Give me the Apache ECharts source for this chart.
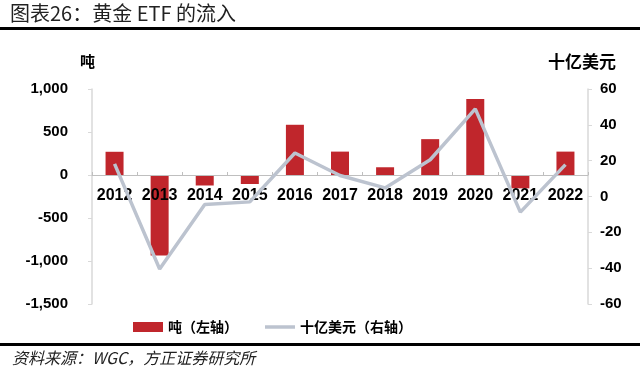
<!DOCTYPE html>
<html><head><meta charset="utf-8">
<script src="https://cdn.jsdelivr.net/npm/echarts@6/dist/echarts.min.js"></script>
<style>html,body{margin:0;padding:0;background:#fff}#c{width:640px;height:382px}</style>
</head><body><div id="c"></div>
<script>
const categories = ['2012','2013','2014','2015','2016','2017','2018','2019','2020','2021','2022'];
const tonnes = [270, -935, -122, -105, 584, 272, 90, 417, 884, -155, 272];
const usdBn = [18.2, -40.5, -4.4, -3.0, 24.3, 11.7, 4.8, 20.5, 48.9, -8.7, 17.8];
const leftTicks = {min: -1500, max: 1000, interval: 500};
const rightTicks = {min: -60, max: 60, interval: 20};
const seriesNames = ['吨（左轴）', '十亿美元（右轴）'];

const gridTop = 89, gridBottom = 78, H = 382;
const plotH = H - gridTop - gridBottom;
const zeroY = gridTop + plotH * (leftTicks.max - 0) / (leftTicks.max - leftTicks.min);
const xOffset = -((H - gridBottom) - zeroY);

const chart = echarts.init(document.getElementById('c'), null, {renderer: 'canvas'});
const cjk = '"Liberation Sans", Arial, "Noto Sans CJK SC", sans-serif';
chart.setOption({
  animation: false,
  backgroundColor: '#fff',
  textStyle: {fontFamily: cjk},
  grid: {left: 92, right: 52, top: gridTop, bottom: gridBottom, containLabel: false},
  legend: {
    left: 128, top: 315, itemGap: 27, itemWidth: 30, itemHeight: 10,
    textStyle: {fontSize: 14, fontWeight: 'bold', color: '#000', fontFamily: '"Noto Sans CJK SC", sans-serif'},
    data: [{name: seriesNames[0], icon: 'rect'},
           {name: seriesNames[1], icon: 'path://M0,0 L30,0 L30,3.5 L0,3.5 Z'}]
  },
  xAxis: {
    type: 'category', data: categories, offset: xOffset, z: 3,
    axisLine: {onZero: false, lineStyle: {color: '#BFBFBF', width: 1}},
    axisTick: {show: true, inside: true, length: 3, lineStyle: {color: '#BFBFBF'}},
    axisLabel: {fontSize: 16, fontWeight: 'bold', color: '#000', margin: 13, interval: 0}
  },
  yAxis: [{
    type: 'value', min: leftTicks.min, max: leftTicks.max, interval: leftTicks.interval,
    splitLine: {show: false},
    axisLine: {show: true, lineStyle: {color: '#D9D9D9', width: 1.5}},
    axisTick: {show: true, length: 4, lineStyle: {color: '#D9D9D9'}},
    axisLabel: {fontSize: 15, fontWeight: 'bold', color: '#000', margin: 24,
      formatter: v => (v < 0 ? '-' : '') + Math.abs(v).toLocaleString('en-US')}
  }, {
    type: 'value', min: rightTicks.min, max: rightTicks.max, interval: rightTicks.interval,
    splitLine: {show: false},
    axisLine: {show: true, lineStyle: {color: '#D9D9D9', width: 1.5}},
    axisTick: {show: true, length: 4, lineStyle: {color: '#D9D9D9'}},
    axisLabel: {fontSize: 15, fontWeight: 'bold', color: '#000', margin: 12,
      formatter: v => (v < 0 ? '-' : '') + Math.abs(v)}
  }],
  series: [{
    name: seriesNames[0], type: 'bar', yAxisIndex: 0, data: tonnes, barWidth: 18, z: 2,
    itemStyle: {color: '#C0262C'}
  }, {
    name: seriesNames[1], type: 'line', yAxisIndex: 1, data: usdBn, z: 4,
    symbol: 'none', lineStyle: {color: '#BCC3CF', width: 3.5}, itemStyle: {color: '#BCC3CF'}
  }],
  graphic: [
    {type: 'text', left: 10, top: 3, style: {text: '图表26：黄金 ETF 的流入', fontSize: 20, fill: '#222', fontFamily: '"Noto Sans CJK SC", sans-serif'}},
    {type: 'rect', shape: {x: 0, y: 27, width: 640, height: 3}, style: {fill: '#000'}},
    {type: 'text', left: 80, top: 54, style: {text: '吨', fontSize: 15, fontWeight: 'bold', fill: '#000', fontFamily: '"Noto Sans CJK SC", sans-serif'}},
    {type: 'text', left: 548, top: 53, style: {text: '十亿美元', fontSize: 17, fontWeight: 'bold', fill: '#000', fontFamily: '"Noto Sans CJK SC", sans-serif'}},
    {type: 'rect', shape: {x: 0, y: 343, width: 640, height: 3}, style: {fill: '#000'}},
    {type: 'text', left: 12, top: 350, style: {text: '资料来源：WGC，方正证券研究所', fontSize: 16, fontStyle: 'italic', fill: '#222', fontFamily: '"Noto Sans CJK SC", sans-serif'}}
  ]
});
</script></body></html>
